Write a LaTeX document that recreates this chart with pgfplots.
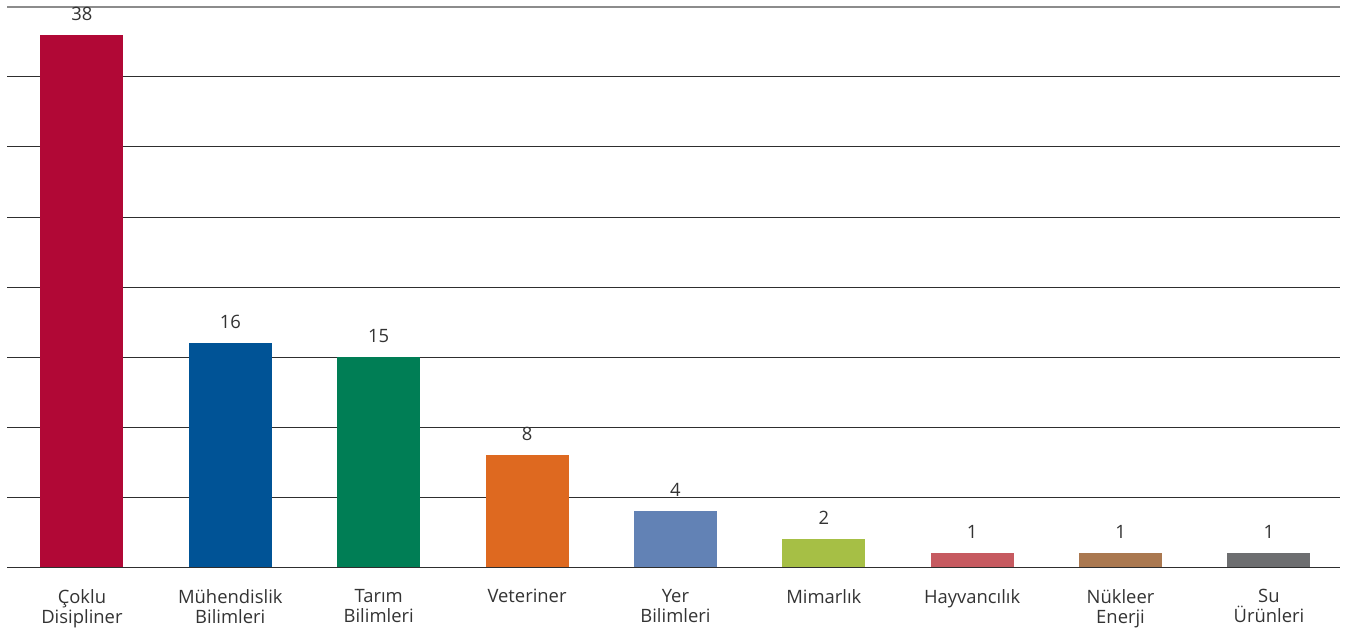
\documentclass[border=0pt]{standalone}
\usepackage{pgfplots}
\pgfplotsset{compat=1.18}
\usepackage{fontspec}
\setmainfont{Open Sans}
\definecolor{c1}{HTML}{B10836}
\definecolor{c2}{HTML}{005396}
\definecolor{c3}{HTML}{007E55}
\definecolor{c4}{HTML}{DE6920}
\definecolor{c5}{HTML}{6282B5}
\definecolor{c6}{HTML}{A6BF45}
\definecolor{c7}{HTML}{C65A60}
\definecolor{c8}{HTML}{AA7850}
\definecolor{c9}{HTML}{6D6E70}
\definecolor{txt}{HTML}{333333}
\begin{document}
\begin{tikzpicture}
\begin{axis}[
  scale only axis,
  width=666.5pt, height=280pt,
  xmin=-0.505, xmax=8.479,
  ymin=0, ymax=40,
  ytick={0,5,...,40},
  yticklabels={},
  ymajorgrids,
  grid style={draw=black!82, line width=0.5pt},
  major tick length=0pt,
  axis line style={draw=none},
  xtick={0,...,8},
  xticklabels={{Çoklu\\Disipliner},{Mühendislik\\Bilimleri},{Tarım\\Bilimleri},{Veteriner},{Yer\\Bilimleri},{Mimarlık},{Hayvancılık},{Nükleer\\Enerji},{Su\\Ürünleri}},
  xticklabel style={align=center, font=\fontsize{9.2}{10}\selectfont, text=txt, anchor=north, yshift=-7.5pt},
  ybar, bar width=41.5pt, bar shift=0pt,
  nodes near coords,
  /pgf/number format/assume math mode=true,
  every node near coord/.append style={font=\fontsize{9.2}{10}\selectfont, text=txt, anchor=south, yshift=3.5pt},
  clip=false,
]
\addplot[fill=c1, draw=none] coordinates {(0,38)};
\addplot[fill=c2, draw=none] coordinates {(1,16)};
\addplot[fill=c3, draw=none] coordinates {(2,15)};
\addplot[fill=c4, draw=none] coordinates {(3,8)};
\addplot[fill=c5, draw=none] coordinates {(4,4)};
\addplot[fill=c6, draw=none] coordinates {(5,2)};
\addplot[fill=c7, draw=none] coordinates {(6,1)};
\addplot[fill=c8, draw=none] coordinates {(7,1)};
\addplot[fill=c9, draw=none] coordinates {(8,1)};
\draw[black!45, line width=0.6pt] (rel axis cs:0,1) -- (rel axis cs:1,1);
\end{axis}
\pgfresetboundingbox
\path (current axis.south west) ++(-3.5pt,-32.5pt) rectangle ([shift={(3.5pt,3.5pt)}]current axis.north east);
\end{tikzpicture}
\end{document}
